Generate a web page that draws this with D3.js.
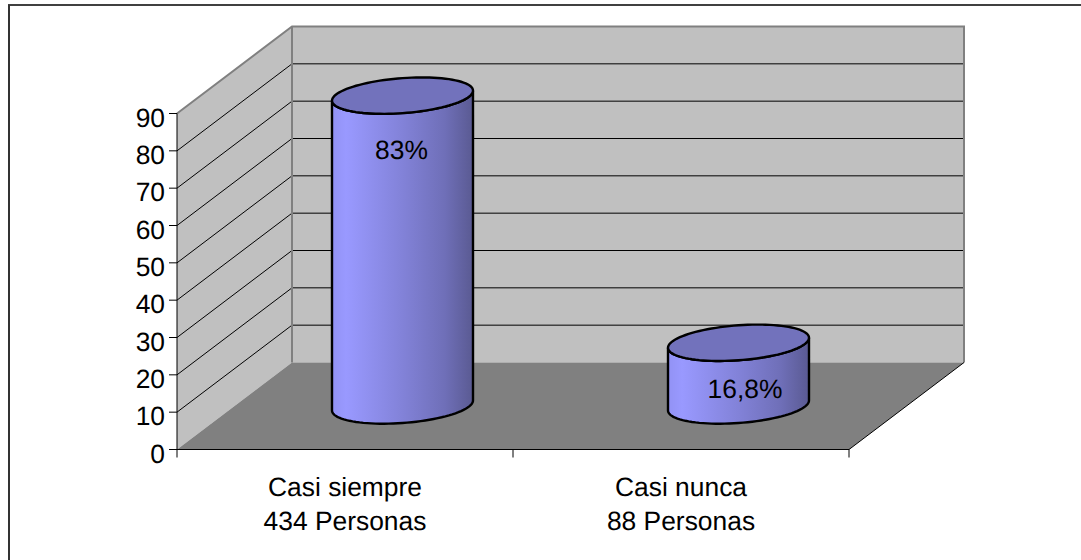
<!DOCTYPE html>
<html><head><meta charset="utf-8">
<script src="https://cdnjs.cloudflare.com/ajax/libs/d3/7.8.5/d3.min.js"></script>
<style>html,body{margin:0;padding:0;background:#fff}svg{display:block}text{font-family:"Liberation Sans",Arial,sans-serif;fill:#000;text-rendering:geometricPrecision}</style>
</head><body><svg id="c" width="1081" height="560"></svg>
<script>
const categories = ["Casi siempre", "Casi nunca"];
const subLabels = ["434 Personas", "88 Personas"];
const values = [83, 16.8];
const valueLabels = ["83%", "16,8%"];
const yTicks = [0,10,20,30,40,50,60,70,80,90];

const fontSize=26.4;
const svg=d3.select("#c");
const x=d3.scaleBand().domain(categories).range([177,849]);
const y=d3.scaleLinear().domain([0,90]).range([449.5,113.5]);
const dx=115, dy=-87;
const px=d=>d[0]+","+d[1];
const poly=(pts)=>"M"+pts.map(px).join("L")+"Z";

const grad=svg.append("defs").append("linearGradient").attr("id","cyl");
[[0,"#9292f4"],[0.1,"#9999ff"],[0.5,"#8282d8"],[0.8,"#6f6fb8"],[1,"#5a5a92"]].forEach(s=>grad.append("stop").attr("offset",s[0]).attr("stop-color",s[1]));

// chart frame (only the top and left edges fall inside the picture)
svg.append("line").attr("x1",8).attr("x2",1081).attr("y1",5).attr("y2",5).attr("stroke","#000").attr("stroke-width",1.5);
svg.append("line").attr("x1",9).attr("x2",9).attr("y1",5).attr("y2",560).attr("stroke","#333").attr("stroke-width",2);

const x0=x.range()[0],x1=x.range()[1],yb=y(0),yt=y(90);
svg.append("path").attr("d",poly([[x0,yb],[x0+dx,yb+dy],[x0+dx,yt+dy],[x0,yt]])).attr("fill","#c0c0c0");
svg.append("path").attr("d",poly([[x0+dx,yb+dy],[x1+dx,yb+dy],[x1+dx,yt+dy],[x0+dx,yt+dy]])).attr("fill","#c0c0c0");
svg.append("path").attr("d",poly([[x0,yb],[x1,yb],[x1+dx,yb+dy],[x0+dx,yb+dy]])).attr("fill","#808080");
yTicks.slice(1,-1).forEach(t=>{
  svg.append("path").attr("d",`M${x0},${y(t)}L${x0+dx},${y(t)+dy}L${x1+dx},${y(t)+dy}`).attr("fill","none").attr("stroke","#000").attr("stroke-width",1);
});
svg.append("path").attr("d",`M${x0},${yt}L${x0+dx},${yt+dy}L${x1+dx},${yt+dy}L${x1+dx},${yb+dy}`).attr("fill","none").attr("stroke","#808080").attr("stroke-width",2);
svg.append("path").attr("d",`M${x0+dx},${yt+dy}L${x0+dx},${yb+dy}`).attr("fill","none").attr("stroke","#808080").attr("stroke-width",2);
svg.append("path").attr("d",`M${x1},${yb}L${x1+dx},${yb+dy}`).attr("fill","none").attr("stroke","#000").attr("stroke-width",1);
svg.append("path").attr("d",`M${x0},${yt}L${x0},${yb}L${x1},${yb}`).attr("fill","none").attr("stroke","#000").attr("stroke-width",1);
yTicks.forEach(t=>{
  svg.append("line").attr("x1",x0-8).attr("x2",x0).attr("y1",y(t)).attr("y2",y(t)).attr("stroke","#000");
  svg.append("text").attr("x",x0-12).attr("y",y(t)+13).attr("text-anchor","end").attr("font-size",fontSize).text(t);
});
[x0,(x0+x1)/2,x1].forEach(v=>svg.append("line").attr("x1",v).attr("x2",v).attr("y1",yb).attr("y2",yb+8).attr("stroke","#000"));
categories.forEach((c,i)=>{
  const cx=x(c)+x.bandwidth()/2;
  svg.append("text").attr("x",cx).attr("y",496).attr("text-anchor","middle").attr("font-size",fontSize).text(c);
  svg.append("text").attr("x",cx).attr("y",530).attr("text-anchor","middle").attr("font-size",fontSize).text(subLabels[i]);
});
const A=70.5,skew=5,B=17.5,baseY=405.5,shift=57.5,labelDx=[-1,6.5],labelY=[159,398];
const ell=(cx,cy,t)=>[cx+A*Math.cos(t),cy-skew*Math.cos(t)+B*Math.sin(t)];
const line=d3.line();
categories.forEach((c,i)=>{
  const cx=x(c)+x.bandwidth()/2+shift;
  const cyTop=baseY-(y(0)-y(values[i]));
  const lower=d3.range(0,Math.PI+0.001,Math.PI/48).map(t=>ell(cx,baseY,t));
  const upperEdge=d3.range(Math.PI,-0.001,-Math.PI/48).map(t=>ell(cx,cyTop,t));
  svg.append("path").attr("d",line(lower.concat(upperEdge))+"Z").attr("fill","url(#cyl)").attr("stroke","#000").attr("stroke-width",2.4);
  const full=d3.range(0,2*Math.PI,Math.PI/48).map(t=>ell(cx,cyTop,t));
  svg.append("path").attr("d",line(full)+"Z").attr("fill","#7272bc").attr("stroke","#000").attr("stroke-width",2.4);
  svg.append("text").attr("x",cx+labelDx[i]).attr("y",labelY[i]).attr("text-anchor","middle").attr("font-size",fontSize).text(valueLabels[i]);
});
</script></body></html>
